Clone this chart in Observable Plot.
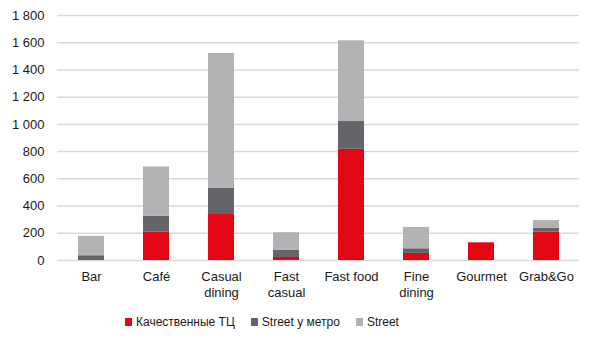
<!DOCTYPE html>
<html>
<head>
<meta charset="utf-8">
<script src="https://cdn.jsdelivr.net/npm/d3@7"></script>
<script src="https://cdn.jsdelivr.net/npm/@observablehq/plot@0.6"></script>
<style>
  html, body { margin: 0; padding: 0; background: #fff; }
  body { width: 600px; height: 342px; overflow: hidden; font-family: "Liberation Sans", Arial, sans-serif; }
  #chart svg text { font-size: 13px; fill: #1a1a1a; }
  #legend { display: flex; align-items: center; margin-left: 125px; margin-top: 10px; font-size: 12px; color: #1a1a1a; }
  #legend .item { display: flex; align-items: center; margin-right: 16px; }
  #legend .sw { width: 7px; height: 8px; margin-right: 4px; }
</style>
</head>
<body>
<div id="chart"></div>
<div id="legend"></div>
<script>
const categories = ["Bar", "Café", "Casual\ndining", "Fast\ncasual", "Fast food", "Fine\ndining", "Gourmet", "Grab&Go"];
const seriesNames = ["Качественные ТЦ", "Street у метро", "Street"];
const seriesColors = ["#e30613", "#636569", "#b1b2b4"];
const qualityMall = [0, 208, 344, 22, 817, 52, 130, 208];
const streetMetro = [35, 116, 188, 52, 204, 34, 0, 30];
const street = [142, 363, 989, 130, 593, 157, 0, 56];
const yTicks = [0, 200, 400, 600, 800, 1000, 1200, 1400, 1600, 1800];

const seriesValues = [qualityMall, streetMetro, street];
const data = [];
seriesValues.forEach((vals, si) => {
  vals.forEach((v, ci) => data.push({category: categories[ci], series: seriesNames[si], value: v}));
});

const fmt = d3.formatLocale({decimal: ",", thousands: " ", grouping: [3], currency: ["", ""]}).format(",");

const chart = Plot.plot({
  width: 600,
  height: 305,
  marginTop: 15,
  marginBottom: 45,
  marginLeft: 57,
  marginRight: 21,
  style: {fontFamily: "'Liberation Sans', Arial, sans-serif", fontSize: "13px", color: "#1a1a1a", background: "#fff"},
  x: {domain: categories, paddingInner: 0.6, paddingOuter: 0.3, label: null},
  y: {domain: [0, 1800], label: null},
  color: {domain: seriesNames, range: seriesColors},
  marks: [
    Plot.ruleY(yTicks, {stroke: "#d9d9d9", strokeWidth: 1.5}),
    Plot.barY(data, {x: "category", y: "value", fill: "series", order: seriesNames}),
    Plot.axisY({ticks: yTicks, tickSize: 0, tickPadding: 13, tickFormat: fmt, fontSize: 13, label: null}),
    Plot.axisX({tickSize: 0, tickPadding: 9, fontSize: 13, lineHeight: 1.25, label: null})
  ]
});
document.getElementById("chart").appendChild(chart);

const legend = document.getElementById("legend");
seriesNames.forEach((name, i) => {
  const item = document.createElement("div");
  item.className = "item";
  const sw = document.createElement("span");
  sw.className = "sw";
  sw.style.background = seriesColors[i];
  const t = document.createElement("span");
  t.textContent = name;
  item.appendChild(sw);
  item.appendChild(t);
  legend.appendChild(item);
});
</script>
</body>
</html>
